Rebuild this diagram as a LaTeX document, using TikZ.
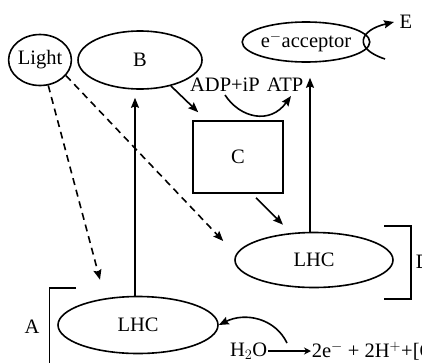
\documentclass[tikz,border=0pt]{standalone}
\usepackage{fontspec}
\setmainfont{Liberation Serif}
\usetikzlibrary{arrows.meta,shapes.geometric}

\begin{document}
\begin{tikzpicture}[x=1pt,y=-1pt,
    line width=1.6pt,
    font=\fontsize{20.5}{22}\selectfont,
    oval/.style={draw,ellipse,inner sep=0pt},
    tip/.style={-{Stealth[length=10pt,width=8pt,inset=1.5pt]}},
    dashline/.style={tip,dash pattern=on 7pt off 5pt},
    label/.style={inner sep=0pt}]
  \useasboundingbox (0,0) rectangle (422,362);

  % nodes
  \node[oval,minimum width=55pt,minimum height=51pt] (light) at (40,60) {Light};
  \node[oval,minimum width=124pt,minimum height=58pt] (B) at (140,60) {B};
  \node[oval,minimum width=115pt,minimum height=40pt] (acc) at (306,42) {e$^{-}$acceptor};
  \node[draw,minimum width=90pt,minimum height=72pt,inner sep=0pt] (C) at (238,157) {C};
  \node[oval,minimum width=158pt,minimum height=55pt] (L2) at (314,260) {LHC};
  \node[oval,minimum width=160pt,minimum height=57pt] (L1) at (138,325) {LHC};

  \node[label] (adp) at (225,85) {ADP+iP};
  \node[label] (atp) at (285,85) {ATP};
  \node[label] (E) at (406,22) {E};
  \node[label,anchor=west] (D) at (415,262) {D};
  \node[label] (A) at (32,327) {A};
  \node[label,anchor=east] (h2o) at (268,351) {H$_2$O};
  \node[label,anchor=west] (prod) at (311,351) {2e$^{-}$ + 2H$^{+}$+[O]};

  % free ends of the curved arrows
  \coordinate (adpS) at (225,95);
  \coordinate (atpS) at (291,96);
  \coordinate (eS) at (385,59);
  \coordinate (eT) at (394,22);
  \coordinate (h2oS) at (287,343);

  % brackets
  \draw (384,226) -- (411,226) -- (411,299) -- (384,299);
  \draw (76,288) -- (49.5,288) -- (49.5,365);

  % light paths
  \draw[dashline] (light.-72) -- ([shift={(-38,-16)}]L1.north);
  \draw[dashline] (light.-31) -- ([shift={(-11,-19)}]L2.west);

  % electron flow
  \draw[tip] ([xshift=-3pt]L1.north) -- ([xshift=-5pt,yshift=-8pt]B.south);
  \draw[tip] ([xshift=-4pt]L2.north) -- ([xshift=4pt,yshift=-15pt]acc.south);
  \draw[tip] (B.-40) -- ([shift={(6,-8)}]C.north west);
  \draw[tip] ([shift={(18,4)}]C.south) -- ([shift={(-31,-7)}]L2.north);

  % ATP synthesis
  \draw[tip] (adpS) .. controls (240,118) and (270,125) .. (atpS);

  % reduction of E
  \draw[tip] (eS) .. controls (352,48) and (360,30) .. (eT);

  % water splitting
  \draw[tip] (h2oS) .. controls (275,318) and (245,312) .. (L1.east);
  \draw[line width=2.5pt,-{Stealth[length=7pt,width=7pt]}] (h2o.east) -- (prod.west);
\end{tikzpicture}
\end{document}
